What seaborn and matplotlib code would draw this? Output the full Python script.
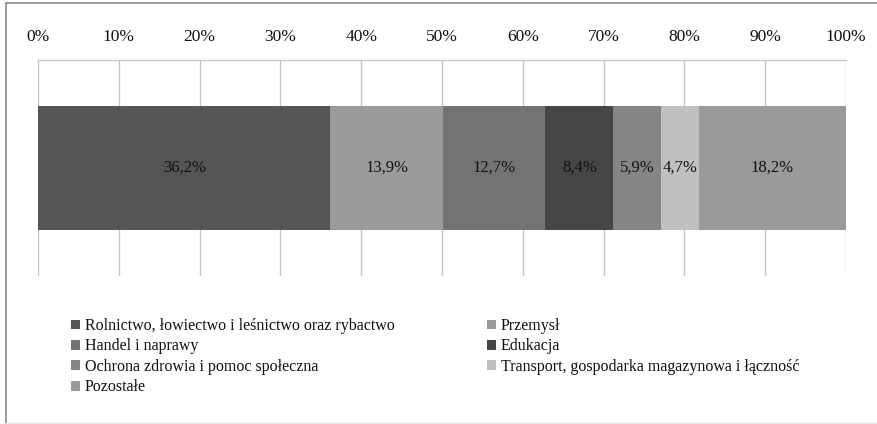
import matplotlib
matplotlib.use("Agg")
import matplotlib.pyplot as plt
import seaborn as sns
import numpy as np
import pandas as pd
from matplotlib.lines import Line2D
from matplotlib.patches import Patch

categories = [
    "Rolnictwo, łowiectwo i leśnictwo oraz rybactwo",
    "Przemysł",
    "Handel i naprawy",
    "Edukacja",
    "Ochrona zdrowia i pomoc społeczna",
    "Transport, gospodarka magazynowa i łączność",
    "Pozostałe",
]
values = [36.2, 13.9, 12.7, 8.4, 5.9, 4.7, 18.2]
colors = ["#555555", "#9b9b9b", "#737373", "#464646", "#858585", "#c0c0c0", "#9a9a9a"]
tick_values = [0, 10, 20, 30, 40, 50, 60, 70, 80, 90, 100]
tick_labels = [f"{v}%" for v in tick_values]

sns.set_theme(style="white")
plt.rcParams["font.family"] = ["Liberation Serif", "DejaVu Serif"]

fig = plt.figure(figsize=(8.78, 4.24), dpi=100)
ax = fig.add_axes([38 / 878, 1 - 276 / 424, (846 - 38) / 878, (276 - 60) / 424])

df = pd.DataFrame({"cat": categories, "val": values, "color": colors})
df["left"] = df["val"].cumsum() - df["val"]

for _, row in df.iterrows():
    sns.barplot(x=[row["val"]], y=["all"], orient="h", left=row["left"],
                color=row["color"], width=0.57, saturation=1, ax=ax,
                linewidth=0, zorder=3)
    ax.text(row["left"] + row["val"] / 2, 0, f"{row['val']:.1f}%".replace(".", ","),
            ha="center", va="center", fontsize=12, color="#111111", zorder=4)

ax.set_xlim(0, 100)
ax.set_ylim(0.5, -0.5)
ax.set_xticks(tick_values)
ax.set_xticklabels(tick_labels, fontsize=12.5, color="#111111")
ax.xaxis.tick_top()
ax.tick_params(axis="x", length=0, pad=11)
ax.set_yticks([])
ax.set_xlabel("")
ax.set_ylabel("")
ax.grid(axis="x", color="#c4c4c4", linewidth=1.0, zorder=0)
for s in ["left", "right", "bottom"]:
    ax.spines[s].set_visible(False)
ax.spines["top"].set_color("#c4c4c4")
ax.spines["top"].set_linewidth(1.0)

# legend: two columns placed separately, row-major reading order
col1 = [0, 2, 4, 6]
col2 = [1, 3, 5]
for idxs, x0 in [(col1, 71), (col2, 487)]:
    handles = [Patch(facecolor=colors[i], edgecolor="none") for i in idxs]
    labels = [categories[i] for i in idxs]
    leg = fig.legend(handles, labels, ncol=1, loc="upper left",
                     bbox_to_anchor=(x0 / 878, 1 - 318 / 424), frameon=False,
                     fontsize=11.5, handlelength=0.55, handleheight=0.55, handletextpad=0.3,
                     labelspacing=0.28, borderaxespad=0, borderpad=0)
    for t in leg.get_texts():
        t.set_color("#111111")

# figure border
fig.add_artist(Line2D([6 / 878, 6 / 878], [1 / 424, 1 - 3 / 424], transform=fig.transFigure, color="#8a8a8a", lw=1.2))
fig.add_artist(Line2D([6 / 878, 1], [1 - 3 / 424, 1 - 3 / 424], transform=fig.transFigure, color="#8a8a8a", lw=1.2))
fig.add_artist(Line2D([6 / 878, 1], [1 / 424, 1 / 424], transform=fig.transFigure, color="#e6e6e6", lw=1.0))

fig.savefig("out.png", dpi=100)
